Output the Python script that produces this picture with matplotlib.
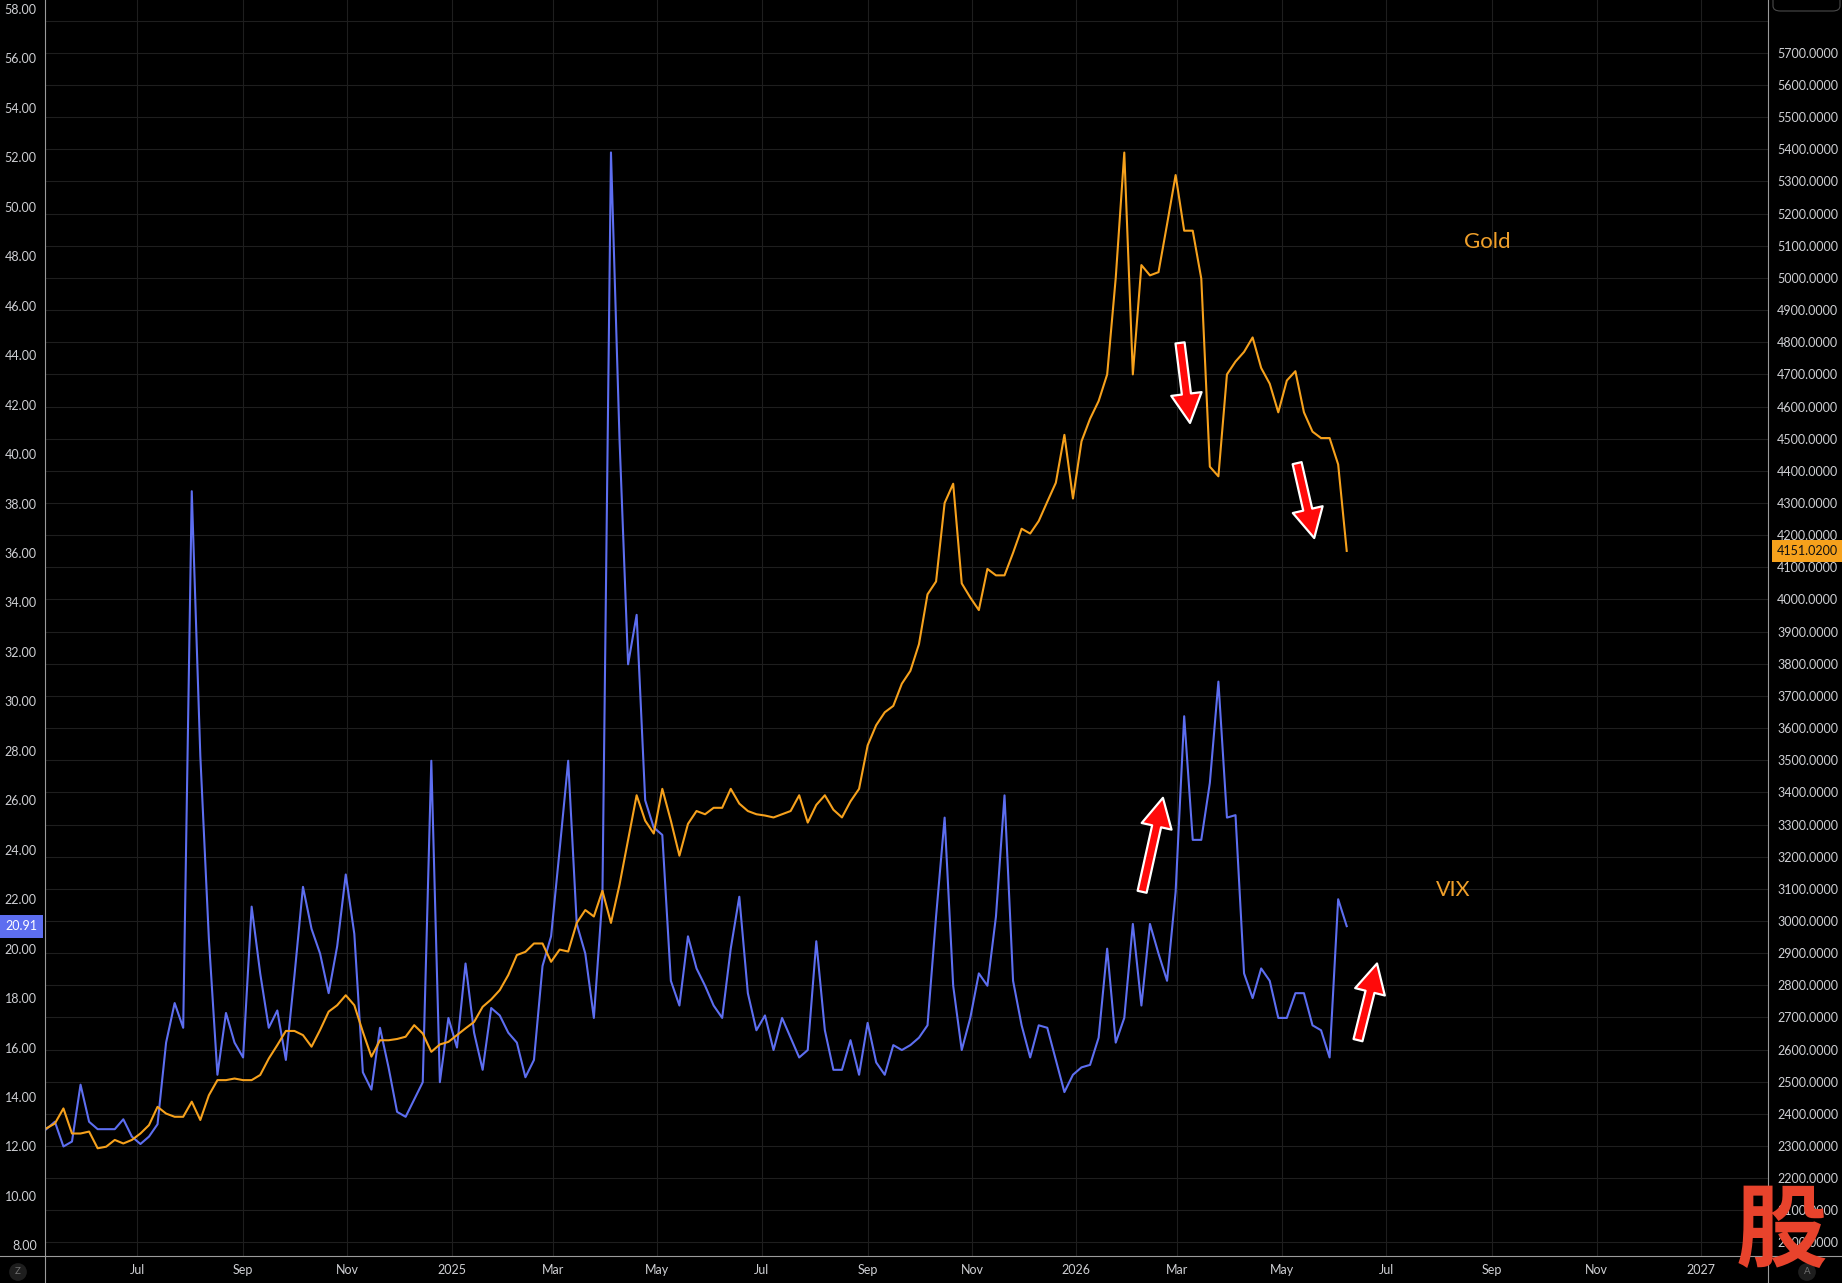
import matplotlib
matplotlib.use("Agg")
import matplotlib.pyplot as plt
import matplotlib.dates as mdates
import matplotlib.transforms as mtransforms
from matplotlib.lines import Line2D
from matplotlib.patches import FancyBboxPatch
from matplotlib.ticker import FuncFormatter, FormatStrFormatter
import numpy as np
import pandas as pd

# one reading every 5 calendar days, starting 2024-05-09
START = "2024-05-09"
STEP = "5D"

vix = [
    12.7, 13.0, 12.0, 12.2, 14.5, 13.0, 12.7, 12.7, 12.7, 13.1,
    12.4, 12.1, 12.4, 12.9, 16.2, 17.8, 16.8, 38.5, 27.8, 20.4,
    14.9, 17.4, 16.2, 15.6, 21.7, 19.0, 16.8, 17.5, 15.5, 18.9,
    22.5, 20.8, 19.8, 18.2, 20.1, 23.0, 20.6, 15.0, 14.3, 16.8,
    15.2, 13.4, 13.2, 13.9, 14.6, 27.6, 14.6, 17.2, 16.0, 19.4,
    16.6, 15.1, 17.6, 17.3, 16.6, 16.2, 14.8, 15.5, 19.3, 20.5,
    24.0, 27.6, 21.0, 19.8, 17.2, 22.1, 52.2, 40.6, 31.5, 33.5,
    26.0, 24.9, 24.6, 18.7, 17.7, 20.5, 19.2, 18.5, 17.7, 17.2,
    20.0, 22.1, 18.2, 16.7, 17.3, 15.9, 17.2, 16.4, 15.6, 15.9,
    20.3, 16.7, 15.1, 15.1, 16.3, 14.9, 17.0, 15.4, 14.9, 16.1,
    15.9, 16.1, 16.4, 16.9, 21.3, 25.3, 18.5, 15.9, 17.2, 19.0,
    18.5, 21.3, 26.2, 18.7, 16.9, 15.6, 16.9, 16.8, 15.5, 14.2,
    14.9, 15.2, 15.3, 16.4, 20.0, 16.2, 17.2, 21.0, 17.7, 21.0,
    19.8, 18.7, 22.3, 29.4, 24.4, 24.4, 26.7, 30.8, 25.3, 25.4,
    19.0, 18.0, 19.2, 18.7, 17.2, 17.2, 18.2, 18.2, 16.9, 16.7,
    15.6, 22.0, 20.91,
]

gold = [
    2355, 2370, 2417, 2339, 2339, 2345, 2293, 2298, 2319, 2308,
    2319, 2339, 2365, 2422, 2401, 2391, 2391, 2438, 2381, 2458,
    2505, 2505, 2510, 2505, 2505, 2521, 2572, 2614, 2658, 2658,
    2645, 2609, 2661, 2718, 2738, 2769, 2738, 2655, 2578, 2629,
    2629, 2633, 2640, 2676, 2650, 2593, 2616, 2624, 2645, 2666,
    2686, 2733, 2756, 2785, 2832, 2894, 2904, 2930, 2930, 2873,
    2911, 2905, 2994, 3034, 3014, 3094, 2994, 3113, 3252, 3391,
    3312, 3272, 3411, 3312, 3203, 3302, 3342, 3332, 3352, 3352,
    3411, 3365, 3342, 3332, 3328, 3322, 3332, 3342, 3391, 3306,
    3361, 3391, 3346, 3322, 3372, 3411, 3546, 3609, 3649, 3669,
    3738, 3778, 3861, 4016, 4056, 4300, 4360, 4050, 4006, 3967,
    4095, 4075, 4075, 4145, 4220, 4205, 4244, 4304, 4363, 4512,
    4314, 4492, 4562, 4617, 4700, 5000, 5390, 4700, 5040, 5008,
    5018, 5167, 5320, 5147, 5147, 4998, 4413, 4383, 4700, 4740,
    4770, 4815, 4720, 4671, 4582, 4681, 4710, 4582, 4522, 4502,
    4502, 4420, 4151.02,
]

vix_last = 20.91
gold_last = 4151.02

# hand-drawn arrows: (tail date, tail value, tip date, tip value)
gold_arrows = [
    ("2026-03-02 14:00", 4798, "2026-03-08 10:00", 4549),
    ("2026-05-10", 4424, "2026-05-20", 4191),
]
vix_arrows = [
    ("2026-02-08 10:00", 22.3, "2026-02-20 14:00", 26.1),
    ("2026-06-14 14:00", 16.3, "2026-06-25 17:00", 19.4),
]

BG = "#000000"
GRID = "#1e1e1e"
TXT = "#cfd0d4"
SEP = "#9a9a9a"
VIX_C = "#5d6ef0"
GOLD_C = "#f6a11c"
LABEL_C = "#ef9f2a"

plt.rcParams['font.family'] = ['Lato', 'DejaVu Sans']

W, H = 1842, 1283
L, R, B = 45, 1768, 1256

dates = pd.date_range(START, periods=len(vix), freq=STEP)

fig = plt.figure(figsize=(W / 100, H / 100), dpi=100, facecolor=BG)
ax = fig.add_axes([L / W, 1 - B / H, (R - L) / W, B / H])
ax.set_facecolor(BG)
ax2 = ax.twinx()

ax.set_xlim(pd.Timestamp("2024-05-08 05:30"), pd.Timestamp("2027-02-09 05:00"))
ax.set_ylim(7.571, 58.365)
ax2.set_ylim(1958, 5864.5)

for a in (ax, ax2):
    for s in a.spines.values():
        s.set_visible(False)

# grid: vertical on month ticks, horizontal on the gold scale
ax.set_axisbelow(True)
ax.grid(axis='x', color=GRID, lw=0.8)
gold_to_ax = mtransforms.blended_transform_factory(ax.transAxes, ax2.transData)
for g in range(2000, 5801, 100):
    ax.plot([0, 1], [g, g], color=GRID, lw=0.8, transform=gold_to_ax, zorder=0.5)

ax.plot(dates, vix, color=VIX_C, lw=1.5, zorder=2)
ax2.plot(dates, gold, color=GOLD_C, lw=1.5, zorder=2)

# ticks
ax.xaxis.set_major_locator(mdates.MonthLocator(bymonth=(1, 3, 5, 7, 9, 11)))
def month_label(v, pos):
    d = mdates.num2date(v)
    return d.strftime('%Y') if d.month == 1 else d.strftime('%b')
ax.xaxis.set_major_formatter(FuncFormatter(month_label))
ax.set_yticks(np.arange(8, 58.1, 2))
ax.yaxis.set_major_formatter(FormatStrFormatter('%.2f'))
ax2.set_yticks(range(2000, 5701, 100))
ax2.yaxis.set_major_formatter(FormatStrFormatter('%.4f'))

ax.tick_params(axis='x', length=0, pad=6, labelsize=9, labelcolor=TXT)
ax.tick_params(axis='y', length=0, pad=6, labelsize=9, labelcolor=TXT)
ax2.tick_params(axis='y', length=0, pad=6.5, labelsize=9, labelcolor=TXT)

# last-value tags on both scales
left_tag = mtransforms.blended_transform_factory(fig.transFigure, ax.transData)
ax.text(37 / W, vix_last, f"{vix_last:.2f}", transform=left_tag, ha='right', va='center',
        fontsize=9, color='white',
        bbox=dict(boxstyle='square,pad=0.45', fc=VIX_C, ec='none'))
right_tag = mtransforms.blended_transform_factory(fig.transFigure, ax2.transData)
ax2.text(1777 / W, gold_last, f"{gold_last:.4f}", transform=right_tag, ha='left', va='center',
         fontsize=9, color='#111111',
         bbox=dict(boxstyle='square,pad=0.4', fc=GOLD_C, ec='none'))

# series names
ax2.text(pd.Timestamp("2026-08-29"), 5112, "Gold", color=LABEL_C, fontsize=16,
         ha='center', va='center')
ax.text(pd.Timestamp("2026-08-09"), 22.37, "VIX", color=LABEL_C, fontsize=15.5,
        ha='center', va='center')

# red arrows
style = 'simple,head_length=1.05,head_width=1.1,tail_width=0.33'
for axis, arrows in ((ax2, gold_arrows), (ax, vix_arrows)):
    for t0, v0, t1, v1 in arrows:
        axis.annotate("", xy=(pd.Timestamp(t1), v1), xytext=(pd.Timestamp(t0), v0),
                      arrowprops=dict(arrowstyle=style, fc='#ff0a0a', ec='white', lw=1.6,
                                      shrinkA=0, shrinkB=0, mutation_scale=20),
                      zorder=5)

# pane separators
fig.add_artist(Line2D([L / W, L / W], [0, 1], color=SEP, lw=0.8))
fig.add_artist(Line2D([R / W, R / W], [0, 1], color=SEP, lw=0.8))
fig.add_artist(Line2D([0, 1], [1 - B / H, 1 - B / H], color=SEP, lw=0.8))

# small corner buttons
for x, ch in ((18, "Z"), (1807, "A")):
    fig.text(x / W, 1 - 1272 / H, ch, ha='center', va='center', fontsize=7, color='#707070',
             bbox=dict(boxstyle='circle,pad=0.45', fc='#1e1e1e', ec='none'))

# scale box at the top of the price axis, mostly cut off
fig.add_artist(FancyBboxPatch((1773 / W, 1 - 11 / H), 67 / W, 30 / H,
                              boxstyle='round,pad=0,rounding_size=0.004',
                              transform=fig.transFigure, fc=BG, ec='#4a4a4a', lw=0.8))

# watermark
fig.text(1781 / W, 1 - 1233 / H, "股", fontsize=66, color='#e8432c', ha='center', va='center',
         family=['Noto Sans CJK SC', 'DejaVu Sans'], fontweight='heavy')

fig.savefig('out.png', dpi=100, facecolor=BG)
